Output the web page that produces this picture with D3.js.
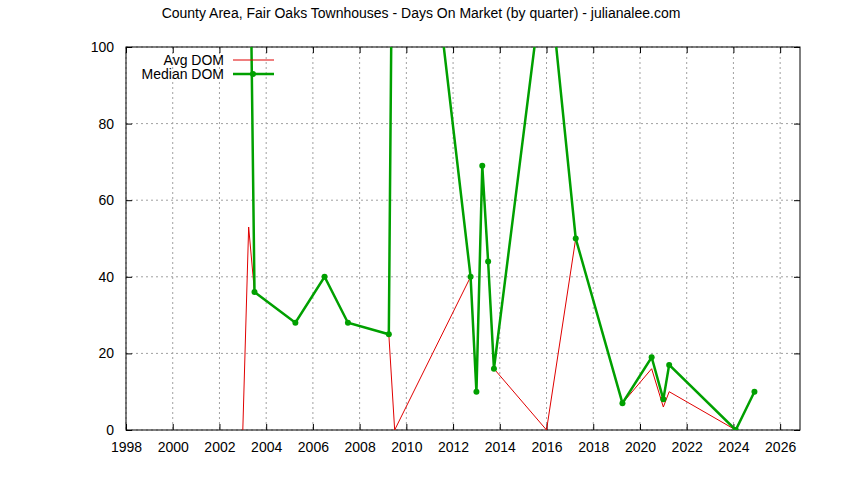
<!DOCTYPE html>
<html><head><meta charset="utf-8">
<script src="https://cdn.jsdelivr.net/npm/d3@7"></script>
<style>body{margin:0;background:#fff}text{font-family:"Liberation Sans",Arial,sans-serif}</style>
</head><body>
<svg id="chart" width="844" height="480"></svg>
<script>
// Data -------------------------------------------------------------
const quarters = [2003.0, 2003.25, 2003.5, 2005.25, 2006.5, 2007.5, 2009.25, 2009.5, 2012.75, 2013.0, 2013.25, 2013.5, 2013.75, 2016.0, 2017.25, 2019.25, 2020.5, 2021.0, 2021.25, 2024.1, 2024.9];
const avgDom = [0, 53, 36, 28, 40, 28, 25, 0, 40, 10, 69, 44, 16, 0, 50, 7, 16, 6, 10, 0, 10];
const medianDom = [null, 160, 36, 28, 40, 28, 25, 210, 40, 10, 69, 44, 16, 125, 50, 7, 19, 8, 17, 0, 10];
const xTicks = d3.range(1998, 2027, 2);
const yTicks = [0, 20, 40, 60, 80, 100];
// ------------------------------------------------------------------

const svg = d3.select("#chart");
const pLeft = 126, pRight = 800, pTop = 47, pBottom = 430;

const x = d3.scaleLinear().domain([1998, 2026.85]).range([pLeft, pRight]);
const y = d3.scaleLinear().domain([0, 100]).range([pBottom, pTop]);

svg.append("text").attr("x", 421).attr("y", 18).attr("text-anchor", "middle")
  .attr("font-size", 14).text("County Area, Fair Oaks Townhouses - Days On Market (by quarter) - julianalee.com");

// Grid
const grid = svg.append("g").attr("stroke", "#a0a0a0").attr("stroke-dasharray", "2,3").attr("stroke-width", 1);
xTicks.forEach(t => grid.append("line").attr("x1", x(t)).attr("x2", x(t)).attr("y1", pTop).attr("y2", pBottom));
yTicks.forEach(t => grid.append("line").attr("x1", pLeft).attr("x2", pRight).attr("y1", y(t)).attr("y2", y(t)));

// Axes
const xAxis = svg.append("g").attr("transform", `translate(0,${pBottom})`)
  .call(d3.axisBottom(x).tickValues(xTicks).tickFormat(d3.format("d")).tickSize(-6).tickPadding(12));
const xTop = svg.append("g").attr("transform", `translate(0,${pTop})`)
  .call(d3.axisTop(x).tickValues(xTicks).tickFormat("").tickSize(-6));
const yAxis = svg.append("g").attr("transform", `translate(${pLeft},0)`)
  .call(d3.axisLeft(y).tickValues(yTicks).tickSize(-6).tickPadding(12));
const yRight = svg.append("g").attr("transform", `translate(${pRight},0)`)
  .call(d3.axisRight(y).tickValues(yTicks).tickFormat("").tickSize(-6));
[xAxis, xTop, yAxis, yRight].forEach(g => {
  g.select(".domain").remove();
  g.selectAll("text").attr("font-size", 14).attr("fill", "#000").style("font-family", "Liberation Sans, Arial, sans-serif");
  g.selectAll("line").attr("stroke", "#000");
});
svg.append("rect").attr("x", pLeft).attr("y", pTop).attr("width", pRight - pLeft).attr("height", pBottom - pTop)
  .attr("fill", "none").attr("stroke", "#000");

// Lines
svg.append("clipPath").attr("id", "clip").append("rect")
  .attr("x", pLeft).attr("y", pTop).attr("width", pRight - pLeft).attr("height", pBottom - pTop);
const plot = svg.append("g").attr("clip-path", "url(#clip)");

const avgPts = quarters.map((q, i) => [q, avgDom[i]]);
const medPts = quarters.map((q, i) => [q, medianDom[i]]).filter(d => d[1] !== null);
const line = d3.line().x(d => x(d[0])).y(d => y(d[1]));

plot.append("path").attr("d", line(avgPts)).attr("fill", "none").attr("stroke", "#e00000").attr("stroke-width", 1);
plot.append("path").attr("d", line(medPts)).attr("fill", "none").attr("stroke", "#00a000").attr("stroke-width", 2.5);
plot.selectAll(".mk").data(medPts.filter(d => d[1] <= 100)).join("circle")
  .attr("cx", d => x(d[0])).attr("cy", d => y(d[1])).attr("r", 3).attr("fill", "#00a000");

// Legend
const lg = svg.append("g");
lg.append("text").attr("x", 224).attr("y", 65).attr("text-anchor", "end").attr("font-size", 14).text("Avg DOM");
lg.append("line").attr("x1", 233).attr("x2", 274).attr("y1", 60).attr("y2", 60).attr("stroke", "#e00000");
lg.append("text").attr("x", 224).attr("y", 79).attr("text-anchor", "end").attr("font-size", 14).text("Median DOM");
lg.append("line").attr("x1", 233).attr("x2", 274).attr("y1", 74).attr("y2", 74).attr("stroke", "#00a000").attr("stroke-width", 2.5);
lg.append("circle").attr("cx", 253).attr("cy", 74).attr("r", 3).attr("fill", "#00a000");
</script>
</body></html>
